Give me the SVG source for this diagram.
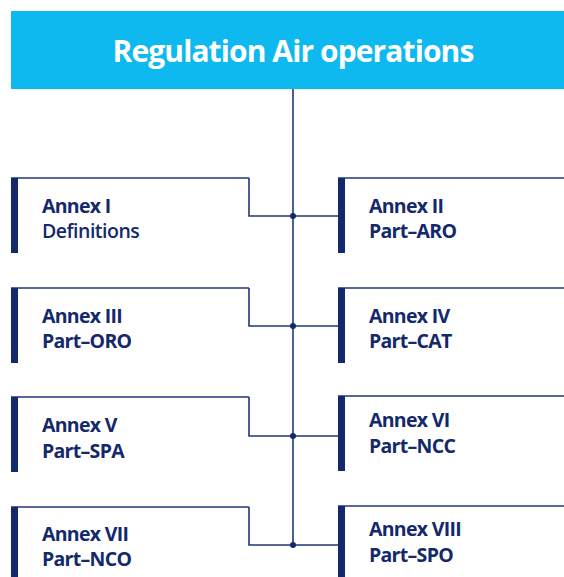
<svg xmlns="http://www.w3.org/2000/svg" width="564" height="577" viewBox="0 0 564 577">
<style>
.bar{fill:#13296b}
.ln{fill:none;stroke:#21367a;stroke-width:1.6}
.dot{fill:#13296b}
.t{font-family:"Open Sans","Liberation Sans",sans-serif;font-size:19.5px;font-weight:700;fill:#13296b;letter-spacing:-0.7px}
.r{font-weight:600;letter-spacing:-0.5px}
.title{font-family:"Open Sans","Liberation Sans",sans-serif;font-size:30px;font-weight:700;fill:#ffffff;letter-spacing:-0.9px}
</style>
<rect width="564" height="577" fill="#ffffff"/>
<g id="title">
<rect x="11" y="11" width="553" height="78" fill="#0db9ee"/>
<text class="title" x="293" y="62" text-anchor="middle">Regulation Air operations</text>
</g>
<g id="connectors">
<line class="ln" x1="293" y1="89" x2="293" y2="545"/>
<polyline class="ln" points="249,178 249,216 338,216"/>
<polyline class="ln" points="249,288 249,326 338,326"/>
<polyline class="ln" points="249,397 249,436 338,436"/>
<polyline class="ln" points="249,507 249,545 338,545"/>
<circle class="dot" cx="293" cy="216" r="3"/>
<circle class="dot" cx="293" cy="326" r="3"/>
<circle class="dot" cx="293" cy="436" r="3"/>
<circle class="dot" cx="293" cy="545" r="3"/>
</g>
<g id="annex1">
<line class="ln" x1="11" y1="178" x2="249" y2="178"/>
<rect class="bar" x="11" y="178" width="7" height="75"/>
<text class="t" x="42" y="213">Annex I</text>
<text class="t r" x="42" y="238">Definitions</text>
</g>
<g id="annex2">
<line class="ln" x1="338" y1="178" x2="564" y2="178"/>
<rect class="bar" x="338" y="178" width="7" height="75"/>
<text class="t" x="369" y="213">Annex II</text>
<text class="t" x="369" y="238">Part–ARO</text>
</g>
<g id="annex3">
<line class="ln" x1="11" y1="288" x2="249" y2="288"/>
<rect class="bar" x="11" y="288" width="7" height="75"/>
<text class="t" x="42" y="323">Annex III</text>
<text class="t" x="42" y="348">Part–ORO</text>
</g>
<g id="annex4">
<line class="ln" x1="338" y1="288" x2="564" y2="288"/>
<rect class="bar" x="338" y="288" width="7" height="75"/>
<text class="t" x="369" y="323">Annex IV</text>
<text class="t" x="369" y="348">Part–CAT</text>
</g>
<g id="annex5">
<line class="ln" x1="11" y1="397" x2="249" y2="397"/>
<rect class="bar" x="11" y="397" width="7" height="75"/>
<text class="t" x="42" y="432">Annex V</text>
<text class="t" x="42" y="458">Part–SPA</text>
</g>
<g id="annex6">
<line class="ln" x1="338" y1="396" x2="564" y2="396"/>
<rect class="bar" x="338" y="396" width="7" height="75"/>
<text class="t" x="369" y="427">Annex VI</text>
<text class="t" x="369" y="453">Part–NCC</text>
</g>
<g id="annex7">
<line class="ln" x1="11" y1="507" x2="249" y2="507"/>
<rect class="bar" x="11" y="507" width="7" height="70"/>
<text class="t" x="42" y="541">Annex VII</text>
<text class="t" x="42" y="566">Part–NCO</text>
</g>
<g id="annex8">
<line class="ln" x1="338" y1="506" x2="564" y2="506"/>
<rect class="bar" x="338" y="506" width="7" height="71"/>
<text class="t" x="369" y="536">Annex VIII</text>
<text class="t" x="369" y="562">Part–SPO</text>
</g>
</svg>
